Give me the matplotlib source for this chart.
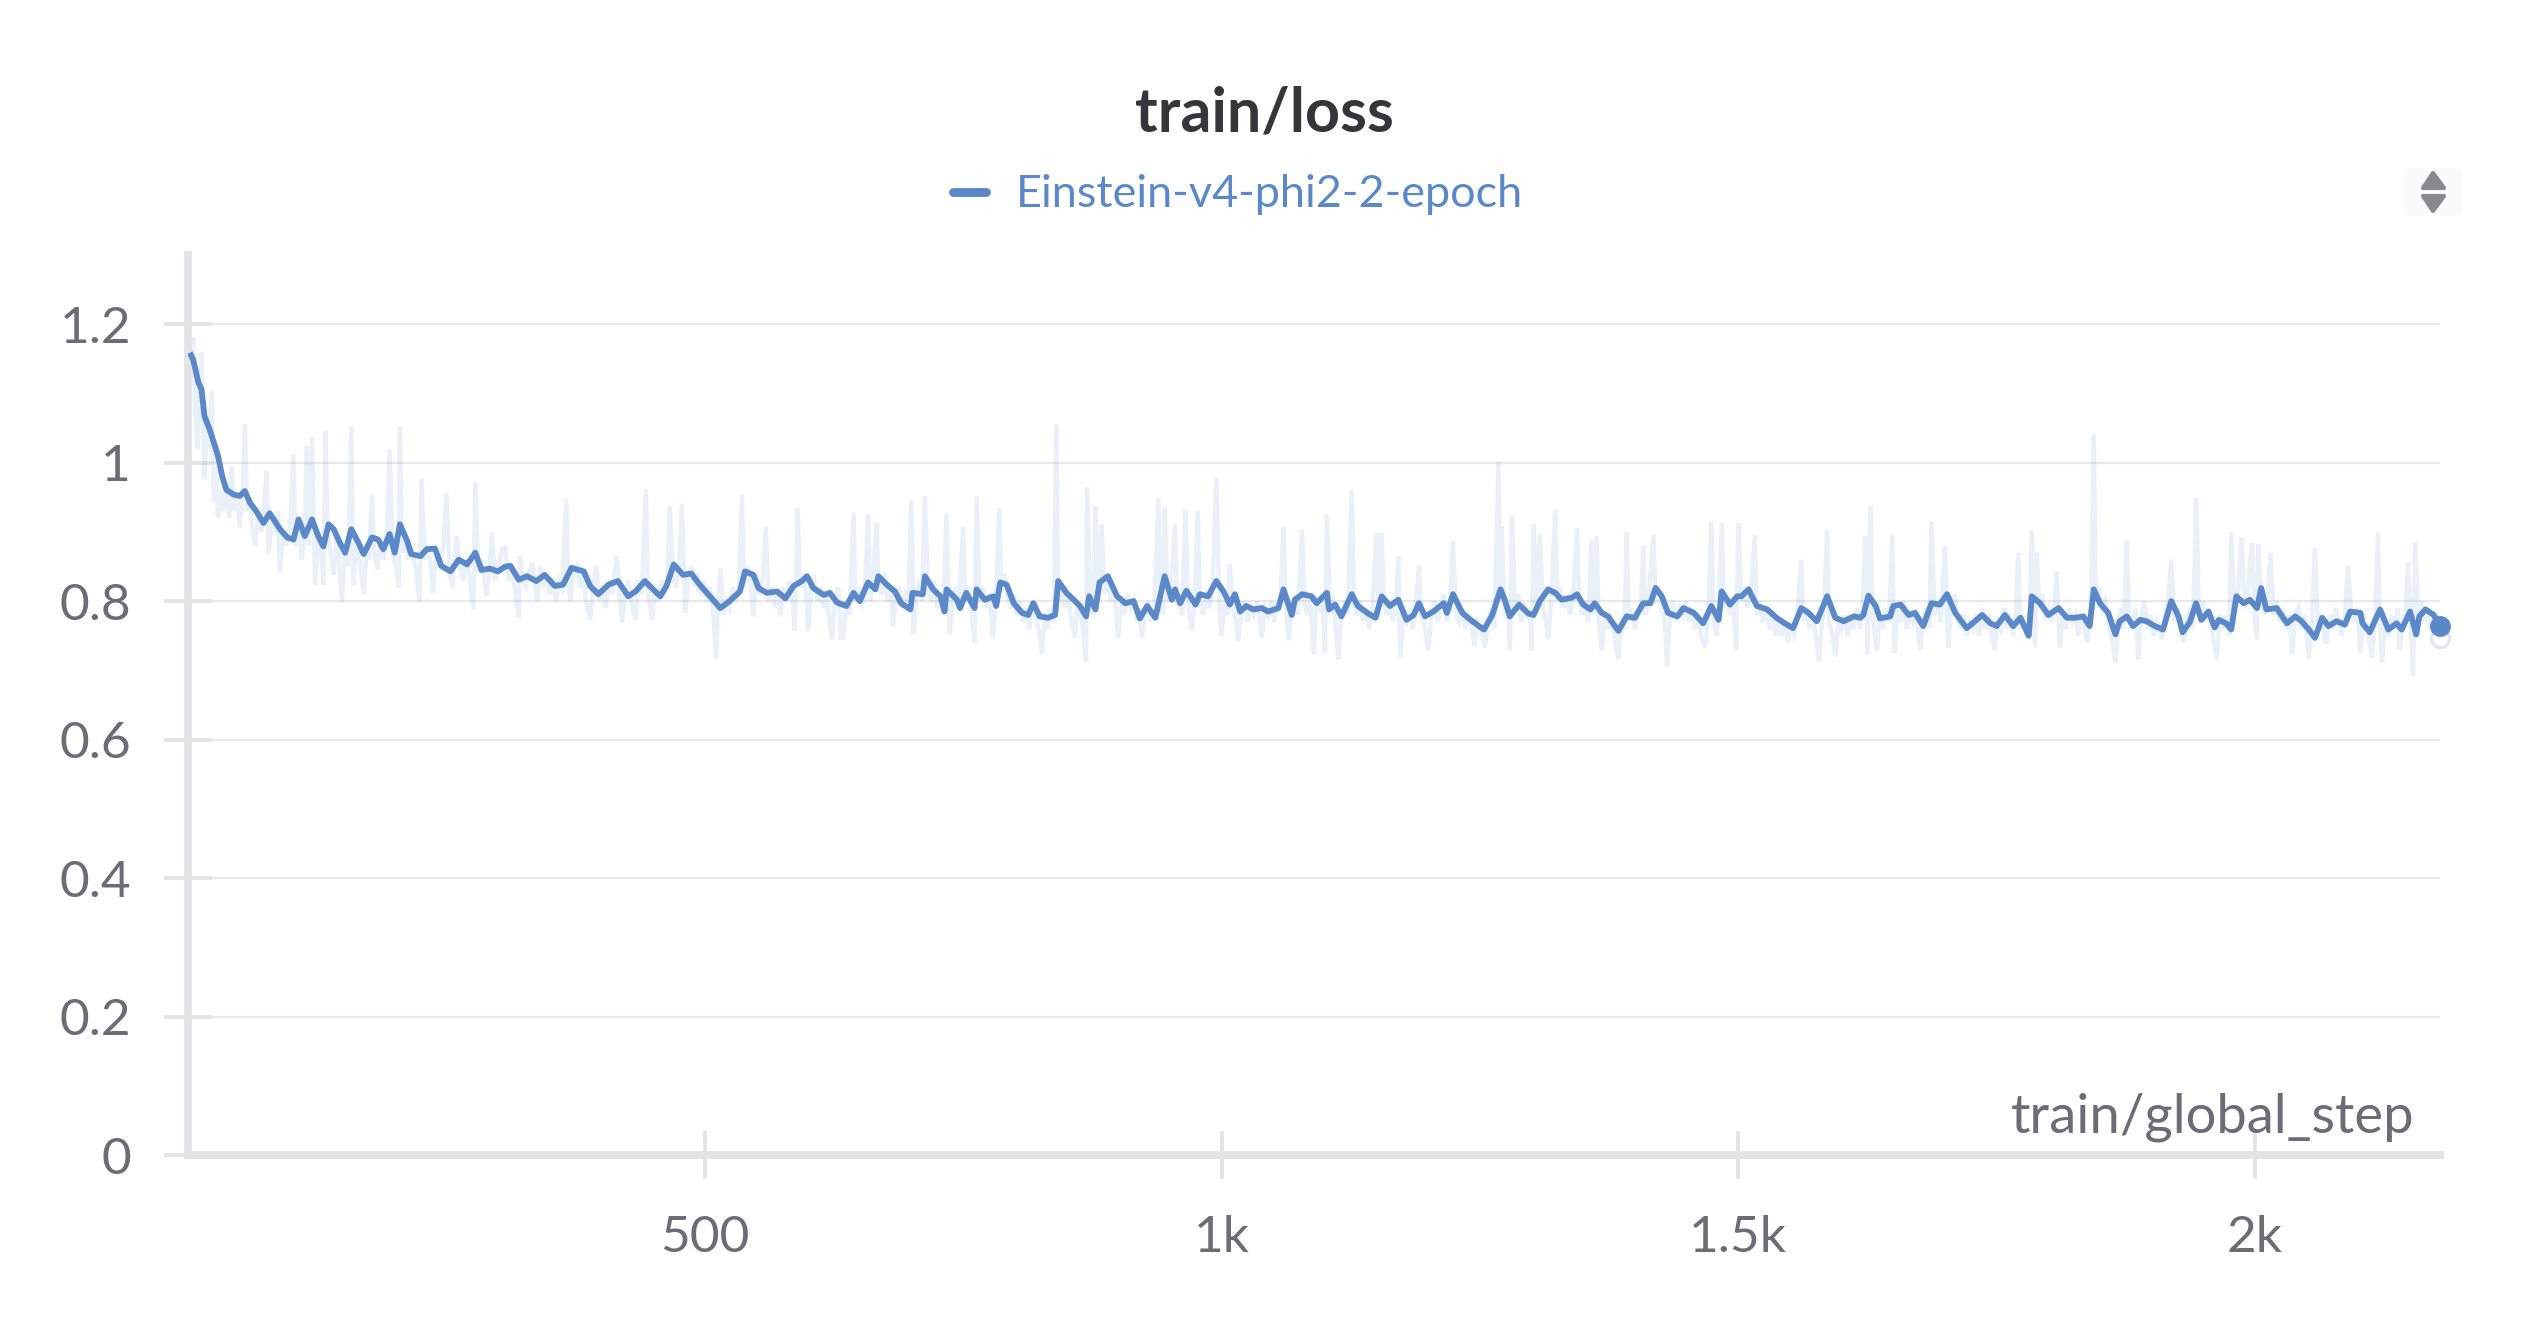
import matplotlib
matplotlib.use('Agg')
import matplotlib.pyplot as plt
from matplotlib.lines import Line2D
from matplotlib.patches import Polygon, FancyBboxPatch

plt.rcParams['font.family'] = ['Lato', 'DejaVu Sans']

# smoothed train/loss: (global_step, loss)
smooth_points = [
    (3, 1.155), (5, 1.149), (10, 1.116), (13, 1.106), (16, 1.067), (21, 1.048), (25, 1.029), (29, 1.010),
    (33, 0.981), (37, 0.961), (44, 0.954), (50, 0.952), (55, 0.959), (60, 0.942), (66, 0.930), (73, 0.913),
    (79, 0.927), (89, 0.904), (96, 0.892), (102, 0.889), (107, 0.918), (113, 0.894), (120, 0.918), (126, 0.894),
    (131, 0.879), (136, 0.911), (141, 0.904), (147, 0.884), (152, 0.870), (158, 0.904), (165, 0.884), (170, 0.868),
    (178, 0.892), (184, 0.889), (189, 0.875), (195, 0.897), (200, 0.870), (205, 0.911), (212, 0.887), (216, 0.868),
    (225, 0.865), (231, 0.875), (239, 0.876), (245, 0.851), (254, 0.843), (262, 0.860), (270, 0.853), (278, 0.870),
    (284, 0.845), (292, 0.847), (300, 0.843), (307, 0.850), (312, 0.851), (320, 0.831), (328, 0.836), (337, 0.829),
    (345, 0.838), (355, 0.822), (363, 0.824), (371, 0.848), (383, 0.843), (389, 0.822), (397, 0.810), (407, 0.824),
    (416, 0.829), (426, 0.807), (433, 0.814), (442, 0.829), (450, 0.817), (457, 0.807), (463, 0.822), (470, 0.853),
    (479, 0.838), (487, 0.840), (495, 0.824), (505, 0.807), (515, 0.790), (524, 0.800), (534, 0.814), (539, 0.843),
    (547, 0.838), (552, 0.819), (560, 0.812), (570, 0.814), (578, 0.804), (586, 0.822), (594, 0.829), (599, 0.836),
    (605, 0.819), (615, 0.809), (621, 0.812), (628, 0.798), (637, 0.793), (644, 0.812), (650, 0.800), (658, 0.827),
    (665, 0.817), (668, 0.836), (676, 0.824), (684, 0.814), (690, 0.797), (699, 0.788), (701, 0.812), (711, 0.810),
    (713, 0.836), (721, 0.817), (728, 0.807), (732, 0.785), (734, 0.817), (744, 0.802), (747, 0.790), (753, 0.812),
    (761, 0.790), (763, 0.817), (771, 0.802), (779, 0.807), (782, 0.793), (786, 0.827), (792, 0.824), (799, 0.797),
    (807, 0.783), (813, 0.780), (818, 0.797), (824, 0.778), (832, 0.776), (839, 0.780), (842, 0.829), (850, 0.812),
    (857, 0.802), (863, 0.793), (869, 0.778), (872, 0.807), (878, 0.788), (882, 0.827), (890, 0.836), (899, 0.807),
    (907, 0.797), (915, 0.800), (921, 0.775), (928, 0.793), (936, 0.776), (945, 0.836), (952, 0.802), (955, 0.817),
    (960, 0.797), (966, 0.815), (975, 0.795), (979, 0.810), (987, 0.807), (995, 0.829), (1002, 0.814), (1008, 0.795),
    (1013, 0.810), (1018, 0.785), (1024, 0.793), (1031, 0.788), (1039, 0.790), (1045, 0.785), (1055, 0.790), (1060, 0.817),
    (1068, 0.780), (1071, 0.802), (1078, 0.810), (1087, 0.807), (1092, 0.797), (1102, 0.812), (1104, 0.788), (1110, 0.795),
    (1116, 0.778), (1126, 0.810), (1132, 0.793), (1141, 0.783), (1149, 0.776), (1155, 0.807), (1163, 0.793), (1171, 0.802),
    (1179, 0.773), (1186, 0.780), (1191, 0.797), (1197, 0.778), (1205, 0.785), (1215, 0.797), (1218, 0.783), (1224, 0.810),
    (1233, 0.783), (1241, 0.773), (1249, 0.764), (1254, 0.759), (1262, 0.780), (1270, 0.817), (1274, 0.802), (1279, 0.778),
    (1288, 0.795), (1297, 0.782), (1302, 0.780), (1308, 0.800), (1316, 0.817), (1323, 0.812), (1329, 0.802), (1339, 0.805),
    (1344, 0.810), (1350, 0.795), (1357, 0.788), (1361, 0.797), (1368, 0.783), (1374, 0.778), (1384, 0.757), (1392, 0.778),
    (1400, 0.776), (1408, 0.797), (1415, 0.797), (1420, 0.819), (1426, 0.807), (1432, 0.783), (1441, 0.778), (1447, 0.790),
    (1457, 0.783), (1466, 0.768), (1474, 0.793), (1481, 0.773), (1484, 0.814), (1492, 0.795), (1499, 0.807), (1503, 0.807),
    (1510, 0.817), (1518, 0.793), (1528, 0.788), (1537, 0.776), (1545, 0.768), (1553, 0.761), (1561, 0.790), (1568, 0.783),
    (1576, 0.771), (1586, 0.807), (1594, 0.776), (1602, 0.771), (1612, 0.778), (1618, 0.776), (1621, 0.780), (1626, 0.808),
    (1633, 0.793), (1637, 0.775), (1647, 0.778), (1650, 0.793), (1657, 0.795), (1665, 0.780), (1671, 0.783), (1679, 0.764),
    (1687, 0.797), (1695, 0.795), (1702, 0.810), (1710, 0.783), (1721, 0.761), (1729, 0.771), (1736, 0.780), (1744, 0.768),
    (1750, 0.764), (1758, 0.780), (1766, 0.764), (1773, 0.776), (1781, 0.750), (1784, 0.807), (1792, 0.797), (1800, 0.780),
    (1810, 0.790), (1818, 0.776), (1826, 0.776), (1834, 0.778), (1840, 0.764), (1844, 0.817), (1850, 0.797), (1858, 0.783),
    (1865, 0.752), (1869, 0.771), (1876, 0.778), (1882, 0.764), (1889, 0.773), (1895, 0.771), (1903, 0.764), (1911, 0.759),
    (1919, 0.800), (1926, 0.778), (1930, 0.755), (1937, 0.770), (1943, 0.797), (1948, 0.773), (1955, 0.785), (1961, 0.762),
    (1965, 0.773), (1972, 0.768), (1977, 0.759), (1982, 0.807), (1989, 0.797), (1995, 0.802), (2002, 0.790), (2006, 0.819),
    (2011, 0.788), (2021, 0.790), (2024, 0.783), (2031, 0.768), (2039, 0.778), (2045, 0.771), (2052, 0.759), (2058, 0.747),
    (2065, 0.776), (2071, 0.764), (2079, 0.771), (2087, 0.766), (2092, 0.785), (2102, 0.783), (2104, 0.768), (2111, 0.755),
    (2121, 0.788), (2129, 0.759), (2137, 0.768), (2142, 0.759), (2150, 0.785), (2156, 0.752), (2159, 0.778), (2165, 0.788),
    (2173, 0.780), (2179, 0.764),
]

# raw (unsmoothed) loss, the faint band behind the line: (global_step, loss)
raw_points = [
    (1, 1.181), (3, 1.140), (5, 1.181), (7, 1.08), (9, 1.02), (11, 1.10), (13, 1.159), (15, 1.03), (16, 0.976), (18, 1.06),
    (20, 1.02), (23, 1.104), (25, 0.943), (27, 0.99), (29, 0.921), (31, 0.96), (34, 0.93), (37, 0.97), (40, 0.92), (42, 0.995),
    (45, 0.93), (48, 0.95), (50, 0.906), (53, 0.96), (55, 1.055), (57, 0.93), (60, 0.95), (62, 0.908), (65, 0.880), (68, 0.93),
    (71, 0.90), (74, 0.94), (76, 0.988), (78, 0.868), (81, 0.92), (84, 0.90), (87, 0.93), (89, 0.841), (92, 0.90), (95, 0.88),
    (99, 0.91), (102, 1.012), (104, 0.88), (107, 0.92), (110, 0.86), (113, 0.90), (115, 1.024), (117, 0.88), (120, 1.034), (123, 0.824),
    (126, 0.90), (129, 0.87), (131, 0.824), (133, 1.046), (135, 0.90), (138, 0.87), (141, 0.838), (144, 0.90), (146, 0.86), (149, 0.798),
    (152, 0.88), (155, 0.85), (158, 1.053), (160, 0.824), (163, 0.88), (166, 0.86), (170, 0.810), (173, 0.88), (175, 0.86), (178, 0.954),
    (180, 0.87), (183, 0.846), (186, 0.89), (189, 0.86), (192, 0.88), (195, 1.019), (198, 0.87), (201, 0.85), (204, 0.819), (205, 1.053),
    (207, 0.87), (210, 0.89), (213, 0.86), (216, 0.88), (220, 0.85), (224, 0.798), (226, 0.976), (229, 0.86), (232, 0.88), (235, 0.85),
    (237, 0.812), (240, 0.87), (244, 0.85), (247, 0.88), (250, 0.956), (253, 0.84), (256, 0.82), (258, 0.86), (260, 0.894), (263, 0.85),
    (266, 0.83), (269, 0.86), (272, 0.84), (276, 0.788), (278, 0.971), (281, 0.84), (284, 0.86), (287, 0.83), (289, 0.807), (292, 0.85),
    (294, 0.899), (297, 0.83), (300, 0.85), (304, 0.875), (307, 0.877), (310, 0.83), (313, 0.85), (316, 0.82), (320, 0.776), (321, 0.865),
    (324, 0.83), (327, 0.82), (330, 0.84), (333, 0.855), (336, 0.82), (338, 0.80), (341, 0.851), (344, 0.82), (347, 0.84), (350, 0.81),
    (353, 0.83), (356, 0.80), (359, 0.83), (362, 0.82), (366, 0.947), (368, 0.83), (370, 0.800), (373, 0.84), (376, 0.85), (379, 0.82),
    (382, 0.84), (385, 0.80), (389, 0.773), (392, 0.82), (395, 0.851), (398, 0.80), (401, 0.82), (404, 0.79), (407, 0.83), (410, 0.81),
    (413, 0.84), (415, 0.865), (418, 0.80), (420, 0.769), (423, 0.81), (426, 0.83), (429, 0.80), (433, 0.773), (436, 0.83), (439, 0.81),
    (443, 0.961), (445, 0.81), (449, 0.773), (452, 0.82), (455, 0.80), (458, 0.83), (461, 0.81), (464, 0.83), (466, 0.937), (469, 0.84),
    (472, 0.82), (475, 0.85), (478, 0.940), (481, 0.783), (484, 0.83), (487, 0.85), (490, 0.82), (493, 0.84), (496, 0.81), (499, 0.83),
    (502, 0.80), (505, 0.82), (508, 0.79), (511, 0.716), (513, 0.80), (515, 0.848), (518, 0.78), (521, 0.80), (524, 0.79), (527, 0.82),
    (530, 0.80), (533, 0.82), (536, 0.954), (538, 0.82), (541, 0.85), (544, 0.83), (547, 0.778), (550, 0.84), (553, 0.81), (556, 0.83),
    (559, 0.908), (562, 0.80), (565, 0.82), (568, 0.79), (571, 0.81), (573, 0.778), (576, 0.82), (579, 0.80), (582, 0.83), (585, 0.80),
    (587, 0.757), (590, 0.935), (592, 0.82), (595, 0.84), (598, 0.81), (600, 0.757), (603, 0.82), (606, 0.83), (609, 0.80), (612, 0.82),
    (615, 0.79), (618, 0.81), (620, 0.78), (623, 0.745), (626, 0.80), (629, 0.82), (632, 0.747), (634, 0.747), (637, 0.80), (640, 0.78),
    (644, 0.928), (646, 0.80), (649, 0.82), (652, 0.79), (655, 0.81), (658, 0.925), (660, 0.80), (663, 0.83), (666, 0.913), (668, 0.83),
    (671, 0.81), (674, 0.84), (677, 0.80), (680, 0.82), (682, 0.764), (685, 0.80), (688, 0.82), (691, 0.79), (694, 0.81), (697, 0.80),
    (700, 0.947), (702, 0.752), (705, 0.81), (708, 0.83), (710, 0.80), (713, 0.952), (716, 0.82), (719, 0.80), (722, 0.83), (725, 0.79),
    (728, 0.81), (731, 0.79), (734, 0.928), (737, 0.752), (740, 0.80), (743, 0.82), (746, 0.79), (750, 0.908), (752, 0.80), (755, 0.82),
    (758, 0.79), (761, 0.740), (763, 0.952), (766, 0.80), (769, 0.82), (772, 0.79), (775, 0.81), (779, 0.745), (782, 0.81), (785, 0.935),
    (787, 0.82), (790, 0.84), (793, 0.81), (796, 0.79), (799, 0.81), (802, 0.78), (805, 0.80), (808, 0.77), (811, 0.79), (814, 0.76),
    (817, 0.80), (820, 0.78), (823, 0.76), (826, 0.723), (829, 0.78), (832, 0.76), (835, 0.79), (838, 0.77), (840, 1.055), (842, 0.80),
    (845, 0.82), (848, 0.79), (851, 0.81), (854, 0.78), (858, 0.747), (861, 0.80), (864, 0.78), (866, 0.76), (869, 0.713), (870, 0.964),
    (873, 0.80), (876, 0.78), (878, 0.938), (881, 0.80), (884, 0.911), (887, 0.81), (890, 0.83), (893, 0.80), (896, 0.82), (900, 0.747),
    (903, 0.80), (906, 0.78), (909, 0.81), (912, 0.79), (915, 0.80), (918, 0.77), (920, 0.79), (923, 0.747), (926, 0.78), (929, 0.80),
    (932, 0.77), (935, 0.79), (939, 0.949), (941, 0.80), (943, 0.78), (945, 0.937), (948, 0.80), (951, 0.82), (955, 0.911), (957, 0.80),
    (960, 0.79), (962, 0.78), (965, 0.932), (968, 0.79), (971, 0.757), (974, 0.80), (977, 0.930), (979, 0.80), (982, 0.78), (985, 0.81),
    (988, 0.79), (991, 0.81), (995, 0.978), (998, 0.79), (1000, 0.750), (1003, 0.80), (1006, 0.78), (1008, 0.853), (1011, 0.79), (1014, 0.77),
    (1016, 0.743), (1019, 0.78), (1022, 0.80), (1025, 0.77), (1028, 0.79), (1031, 0.78), (1035, 0.80), (1039, 0.747), (1042, 0.79), (1045, 0.78),
    (1048, 0.80), (1051, 0.77), (1054, 0.79), (1057, 0.80), (1060, 0.908), (1062, 0.80), (1065, 0.743), (1068, 0.79), (1071, 0.80), (1074, 0.78),
    (1078, 0.903), (1080, 0.80), (1083, 0.78), (1086, 0.80), (1089, 0.723), (1092, 0.80), (1095, 0.79), (1098, 0.81), (1100, 0.725), (1102, 0.925),
    (1105, 0.79), (1108, 0.80), (1110, 0.77), (1113, 0.716), (1116, 0.78), (1119, 0.80), (1122, 0.78), (1126, 0.961), (1128, 0.80), (1131, 0.78),
    (1134, 0.80), (1137, 0.77), (1140, 0.79), (1143, 0.76), (1146, 0.79), (1150, 0.899), (1152, 0.78), (1155, 0.899), (1157, 0.80), (1160, 0.78),
    (1163, 0.80), (1166, 0.77), (1169, 0.79), (1171, 0.865), (1173, 0.720), (1176, 0.78), (1179, 0.77), (1182, 0.79), (1185, 0.76), (1188, 0.79),
    (1191, 0.851), (1193, 0.78), (1196, 0.77), (1200, 0.728), (1203, 0.78), (1206, 0.80), (1209, 0.77), (1212, 0.79), (1215, 0.81), (1218, 0.77),
    (1221, 0.79), (1224, 0.887), (1227, 0.78), (1230, 0.77), (1233, 0.79), (1236, 0.76), (1239, 0.78), (1242, 0.76), (1245, 0.735), (1248, 0.77),
    (1251, 0.76), (1255, 0.733), (1258, 0.77), (1261, 0.79), (1264, 0.76), (1268, 1.002), (1270, 0.80), (1271, 0.908), (1274, 0.78), (1277, 0.80),
    (1279, 0.728), (1281, 0.923), (1284, 0.79), (1287, 0.81), (1290, 0.77), (1293, 0.79), (1296, 0.78), (1299, 0.77), (1300, 0.728), (1302, 0.911),
    (1305, 0.79), (1308, 0.896), (1311, 0.79), (1314, 0.77), (1316, 0.745), (1319, 0.80), (1323, 0.932), (1325, 0.80), (1328, 0.82), (1331, 0.79),
    (1334, 0.81), (1337, 0.78), (1340, 0.80), (1344, 0.906), (1346, 0.80), (1349, 0.78), (1352, 0.80), (1355, 0.77), (1358, 0.889), (1360, 0.78),
    (1363, 0.894), (1365, 0.77), (1368, 0.728), (1371, 0.78), (1374, 0.76), (1377, 0.78), (1380, 0.75), (1384, 0.716), (1387, 0.77), (1390, 0.76),
    (1392, 0.899), (1394, 0.77), (1397, 0.79), (1400, 0.76), (1403, 0.78), (1406, 0.80), (1408, 0.880), (1410, 0.78), (1413, 0.80), (1418, 0.896),
    (1420, 0.80), (1423, 0.82), (1426, 0.79), (1429, 0.77), (1431, 0.706), (1434, 0.78), (1437, 0.80), (1440, 0.77), (1443, 0.79), (1446, 0.78),
    (1449, 0.80), (1452, 0.77), (1455, 0.79), (1458, 0.76), (1461, 0.78), (1464, 0.75), (1468, 0.733), (1471, 0.78), (1474, 0.916), (1476, 0.77),
    (1479, 0.75), (1481, 0.78), (1484, 0.913), (1486, 0.79), (1489, 0.81), (1492, 0.78), (1495, 0.80), (1498, 0.730), (1500, 0.913), (1503, 0.80),
    (1506, 0.82), (1509, 0.79), (1512, 0.81), (1516, 0.896), (1518, 0.78), (1521, 0.80), (1524, 0.77), (1527, 0.79), (1530, 0.76), (1533, 0.78),
    (1536, 0.75), (1539, 0.77), (1542, 0.75), (1545, 0.77), (1548, 0.74), (1551, 0.76), (1554, 0.75), (1557, 0.78), (1561, 0.860), (1563, 0.77),
    (1566, 0.79), (1569, 0.76), (1572, 0.78), (1575, 0.75), (1578, 0.713), (1581, 0.77), (1583, 0.79), (1586, 0.903), (1588, 0.77), (1591, 0.75),
    (1594, 0.720), (1597, 0.77), (1600, 0.76), (1603, 0.78), (1606, 0.75), (1609, 0.78), (1612, 0.76), (1615, 0.79), (1618, 0.76), (1620, 0.78),
    (1623, 0.894), (1625, 0.723), (1628, 0.937), (1630, 0.78), (1634, 0.728), (1637, 0.78), (1640, 0.76), (1643, 0.79), (1646, 0.77), (1649, 0.896),
    (1651, 0.725), (1654, 0.79), (1657, 0.77), (1660, 0.80), (1663, 0.76), (1666, 0.78), (1669, 0.77), (1672, 0.79), (1676, 0.730), (1679, 0.77),
    (1682, 0.79), (1685, 0.76), (1687, 0.916), (1690, 0.78), (1693, 0.80), (1696, 0.77), (1700, 0.880), (1703, 0.733), (1706, 0.79), (1709, 0.81),
    (1712, 0.78), (1715, 0.76), (1718, 0.78), (1721, 0.75), (1724, 0.77), (1727, 0.76), (1730, 0.78), (1733, 0.75), (1736, 0.79), (1739, 0.76),
    (1742, 0.78), (1745, 0.75), (1748, 0.730), (1751, 0.77), (1754, 0.76), (1757, 0.79), (1760, 0.76), (1763, 0.78), (1766, 0.75), (1768, 0.77),
    (1771, 0.870), (1773, 0.76), (1776, 0.78), (1779, 0.75), (1782, 0.77), (1784, 0.903), (1787, 0.733), (1789, 0.870), (1791, 0.79), (1794, 0.81),
    (1797, 0.78), (1800, 0.79), (1803, 0.77), (1806, 0.79), (1808, 0.843), (1811, 0.733), (1814, 0.78), (1817, 0.76), (1820, 0.79), (1823, 0.77),
    (1826, 0.78), (1829, 0.75), (1832, 0.78), (1835, 0.76), (1838, 0.74), (1841, 0.77), (1844, 1.041), (1846, 0.80), (1849, 0.82), (1852, 0.79),
    (1855, 0.80), (1858, 0.77), (1861, 0.75), (1865, 0.711), (1868, 0.77), (1871, 0.79), (1873, 0.76), (1876, 0.889), (1878, 0.78), (1881, 0.76),
    (1884, 0.79), (1887, 0.716), (1890, 0.78), (1893, 0.80), (1896, 0.76), (1899, 0.78), (1902, 0.75), (1905, 0.77), (1908, 0.76), (1910, 0.745),
    (1913, 0.78), (1916, 0.80), (1919, 0.860), (1922, 0.77), (1925, 0.79), (1928, 0.76), (1931, 0.74), (1934, 0.77), (1937, 0.79), (1940, 0.76),
    (1943, 0.949), (1946, 0.78), (1949, 0.80), (1952, 0.77), (1955, 0.79), (1958, 0.76), (1963, 0.716), (1966, 0.78), (1969, 0.76), (1972, 0.78),
    (1975, 0.75), (1977, 0.899), (1980, 0.78), (1983, 0.80), (1987, 0.892), (1990, 0.79), (1993, 0.81), (1997, 0.884), (2000, 0.77), (2002, 0.745),
    (2003, 0.882), (2006, 0.80), (2009, 0.78), (2012, 0.80), (2015, 0.870), (2018, 0.78), (2021, 0.80), (2024, 0.77), (2027, 0.79), (2030, 0.76),
    (2033, 0.78), (2036, 0.723), (2039, 0.78), (2042, 0.79), (2045, 0.76), (2048, 0.78), (2052, 0.716), (2055, 0.77), (2058, 0.877), (2061, 0.76),
    (2064, 0.78), (2067, 0.75), (2069, 0.738), (2072, 0.78), (2075, 0.76), (2078, 0.79), (2081, 0.77), (2084, 0.75), (2087, 0.78), (2090, 0.851),
    (2093, 0.79), (2096, 0.77), (2099, 0.79), (2102, 0.725), (2105, 0.78), (2108, 0.76), (2111, 0.74), (2113, 0.718), (2116, 0.77), (2119, 0.899),
    (2121, 0.76), (2123, 0.711), (2126, 0.77), (2129, 0.75), (2132, 0.78), (2135, 0.76), (2138, 0.79), (2140, 0.730), (2143, 0.77), (2146, 0.79),
    (2148, 0.856), (2151, 0.76), (2153, 0.692), (2155, 0.884), (2158, 0.78), (2161, 0.80), (2164, 0.77), (2167, 0.79), (2170, 0.76), (2173, 0.78),
    (2176, 0.76), (2179, 0.747),
]

y_ticks = [0, 0.2, 0.4, 0.6, 0.8, 1.0, 1.2]
y_tick_labels = ['0', '0.2', '0.4', '0.6', '0.8', '1', '1.2']
x_ticks = [500, 1000, 1500, 2000]
x_tick_labels = ['500', '1k', '1.5k', '2k']
run_name = 'Einstein-v4-phi2-2-epoch'

line_color = '#5a88c8'
axis_color = '#e4e4e7'
text_color = '#6c6c77'

W, H = 2528, 1328
DPI = 200
fig = plt.figure(figsize=(W / DPI, H / DPI), dpi=DPI)

def fx(px):
    return px / W

def fy(py):
    return 1 - py / H

ax = fig.add_axes([fx(188), fy(1155), fx(2440) - fx(188), fy(255) - fy(1155)])

raw_x = [p[0] for p in raw_points]
raw_y = [p[1] for p in raw_points]
sm_x = [p[0] for p in smooth_points]
sm_y = [p[1] for p in smooth_points]

ax.plot(raw_x, raw_y, color=line_color, alpha=0.12, lw=1.6, zorder=1, solid_joinstyle='miter')
ax.plot(sm_x, sm_y, color=line_color, lw=2.1, zorder=3)
ax.plot(raw_x[-1], raw_y[-1], 'o', ms=6.5, mfc='white', mec=line_color, mew=1.2, alpha=0.2, zorder=3, clip_on=False)
ax.plot(sm_x[-1], sm_y[-1], 'o', ms=6.5, color=line_color, zorder=4, clip_on=False)

ax.set_xlim(0, 2179)
ax.set_ylim(0, 1.3)
ax.set_xticks(x_ticks)
ax.set_xticklabels(x_tick_labels)
ax.set_yticks(y_ticks)
ax.set_yticklabels(y_tick_labels)

ax.grid(axis='y', color='#e9e9ec', lw=0.8, zorder=0)
ax.set_axisbelow(True)
for s in ['top', 'right']:
    ax.spines[s].set_visible(False)
for s in ['left', 'bottom']:
    ax.spines[s].set_color(axis_color)
    ax.spines[s].set_linewidth(2.8)
ax.tick_params(axis='both', direction='inout', length=17, width=1.4, color=axis_color,
               labelcolor=text_color, labelsize=18.5)
ax.tick_params(axis='y', pad=12)
ax.tick_params(axis='x', pad=13)

fig.text(fx(2415), fy(1133), 'train/global_step', ha='right', va='baseline',
         fontsize=19.6, color=text_color)

# title and legend
fig.text(0.5, fy(132), 'train/loss', ha='center', va='baseline',
         fontsize=22, fontweight='bold', color='#35363a')
fig.add_artist(Line2D([fx(953), fx(986)], [fy(192), fy(192)], color=line_color,
                      lw=3.2, solid_capstyle='round'))
fig.text(fx(1016), fy(207), run_name, ha='left', va='baseline',
         fontsize=16.2, color=line_color)

# scroll arrows top right
fig.add_artist(FancyBboxPatch((fx(2404), fy(216)), fx(58), fy(168) - fy(216),
                              boxstyle='round,pad=0,rounding_size=0.004',
                              fc='#fafafb', ec='none', transform=fig.transFigure))
fig.add_artist(Polygon([(fx(2433), fy(173)), (fx(2423), fy(188)), (fx(2444), fy(188))],
                       closed=True, fc='#8a8a8e', ec='#8a8a8e', lw=1.5, joinstyle='round',
                       transform=fig.transFigure))
fig.add_artist(Polygon([(fx(2423), fy(196)), (fx(2444), fy(196)), (fx(2433), fy(211))],
                       closed=True, fc='#8a8a8e', ec='#8a8a8e', lw=1.5, joinstyle='round',
                       transform=fig.transFigure))

fig.savefig('out.png', dpi=DPI)
